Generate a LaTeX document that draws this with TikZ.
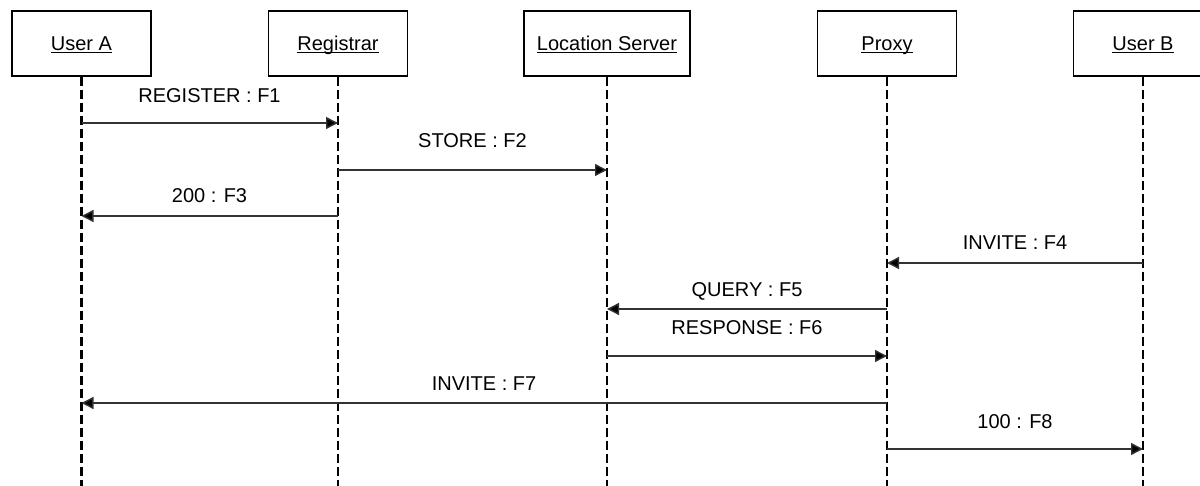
\documentclass[tikz,border=0pt]{standalone}
\usepackage{fontspec}
\setmainfont{Liberation Sans}
\usetikzlibrary{arrows.meta}
\newcommand\myul[1]{\setbox0\hbox{#1}\rlap{\rule[-2.2pt]{\wd0}{1.3pt}}\box0}
\begin{document}
\begin{tikzpicture}[x=1pt,y=-1pt,
  actor/.style={draw, line width=1.3pt, minimum width=139pt, minimum height=65pt, inner sep=0pt, text height=14.5pt, text depth=0pt, font=\fontsize{20}{24}\selectfont},
  life/.style={line width=2.3pt, dash pattern=on 9pt off 4pt},
  msg/.style={line width=1.4pt, draw=black!80, -{Triangle[length=12pt,width=12pt,fill=black]}},
  lbl/.style={font=\fontsize{20}{24}\selectfont, inner sep=0pt}]
\useasboundingbox (0,0) rectangle (1200,486);
% actors
\node[actor] (A) at (81.5,43.5) {\myul{User A}};
\node[actor] (R) at (338,43.5) {\myul{Registrar}};
\node[actor, minimum width=166pt] (L) at (607,43.5) {\myul{Location Server}};
\node[actor] (P) at (887,43.5) {\myul{Proxy}};
\node[actor] (B) at (1143,43.5) {\myul{User B}};
% lifeline ends
\coordinate (Ae) at (A.south |- 0,490);
\coordinate (Re) at (R.south |- 0,490);
\coordinate (Le) at (L.south |- 0,490);
\coordinate (Pe) at (P.south |- 0,490);
\coordinate (Be) at (B.south |- 0,490);
\draw[life] (A.south) -- (Ae);
\draw[life] (R.south) -- (Re);
\draw[life] (L.south) -- (Le);
\draw[life] (P.south) -- (Pe);
\draw[life] (B.south) -- (Be);
% message points
\coordinate (A1) at (A.south |- 0,123);  \coordinate (R1) at (R.south |- 0,123);
\coordinate (R2) at (R.south |- 0,170);  \coordinate (L2) at (L.south |- 0,170);
\coordinate (R3) at (R.south |- 0,216);  \coordinate (A3) at (A.south |- 0,216);
\coordinate (B4) at (B.south |- 0,263);  \coordinate (P4) at (P.south |- 0,263);
\coordinate (P5) at (P.south |- 0,309);  \coordinate (L5) at (L.south |- 0,309);
\coordinate (L6) at (L.south |- 0,356);  \coordinate (P6) at (P.south |- 0,356);
\coordinate (P7) at (P.south |- 0,403);  \coordinate (A7) at (A.south |- 0,403);
\coordinate (P8) at (P.south |- 0,449);  \coordinate (B8) at (B.south |- 0,449);
% messages
\draw[msg] (A1) -- (R1);
\draw[msg] (R2) -- (L2);
\draw[msg] (R3) -- (A3);
\draw[msg] (B4) -- (P4);
\draw[msg] (P5) -- (L5);
\draw[msg] (L6) -- (P6);
\draw[msg] (P7) -- (A7);
\draw[msg] (P8) -- (B8);
% labels
\node[lbl] (l1) at (209.5,96) {REGISTER : F1};
\node[lbl] (l2) at (472.5,141) {STORE : F2};
\node[lbl] (l3) at (209.5,196) {200 : F3};
\node[lbl] (l4) at (1015,243) {INVITE : F4};
\node[lbl] (l5) at (747,291.5) {QUERY : F5};
\node[lbl] (l6) at (747,328) {RESPONSE : F6};
\node[lbl] (l7) at (484,384) {INVITE : F7};
\node[lbl] (l8) at (1015,421.5) {100 : F8};
\end{tikzpicture}
\end{document}
